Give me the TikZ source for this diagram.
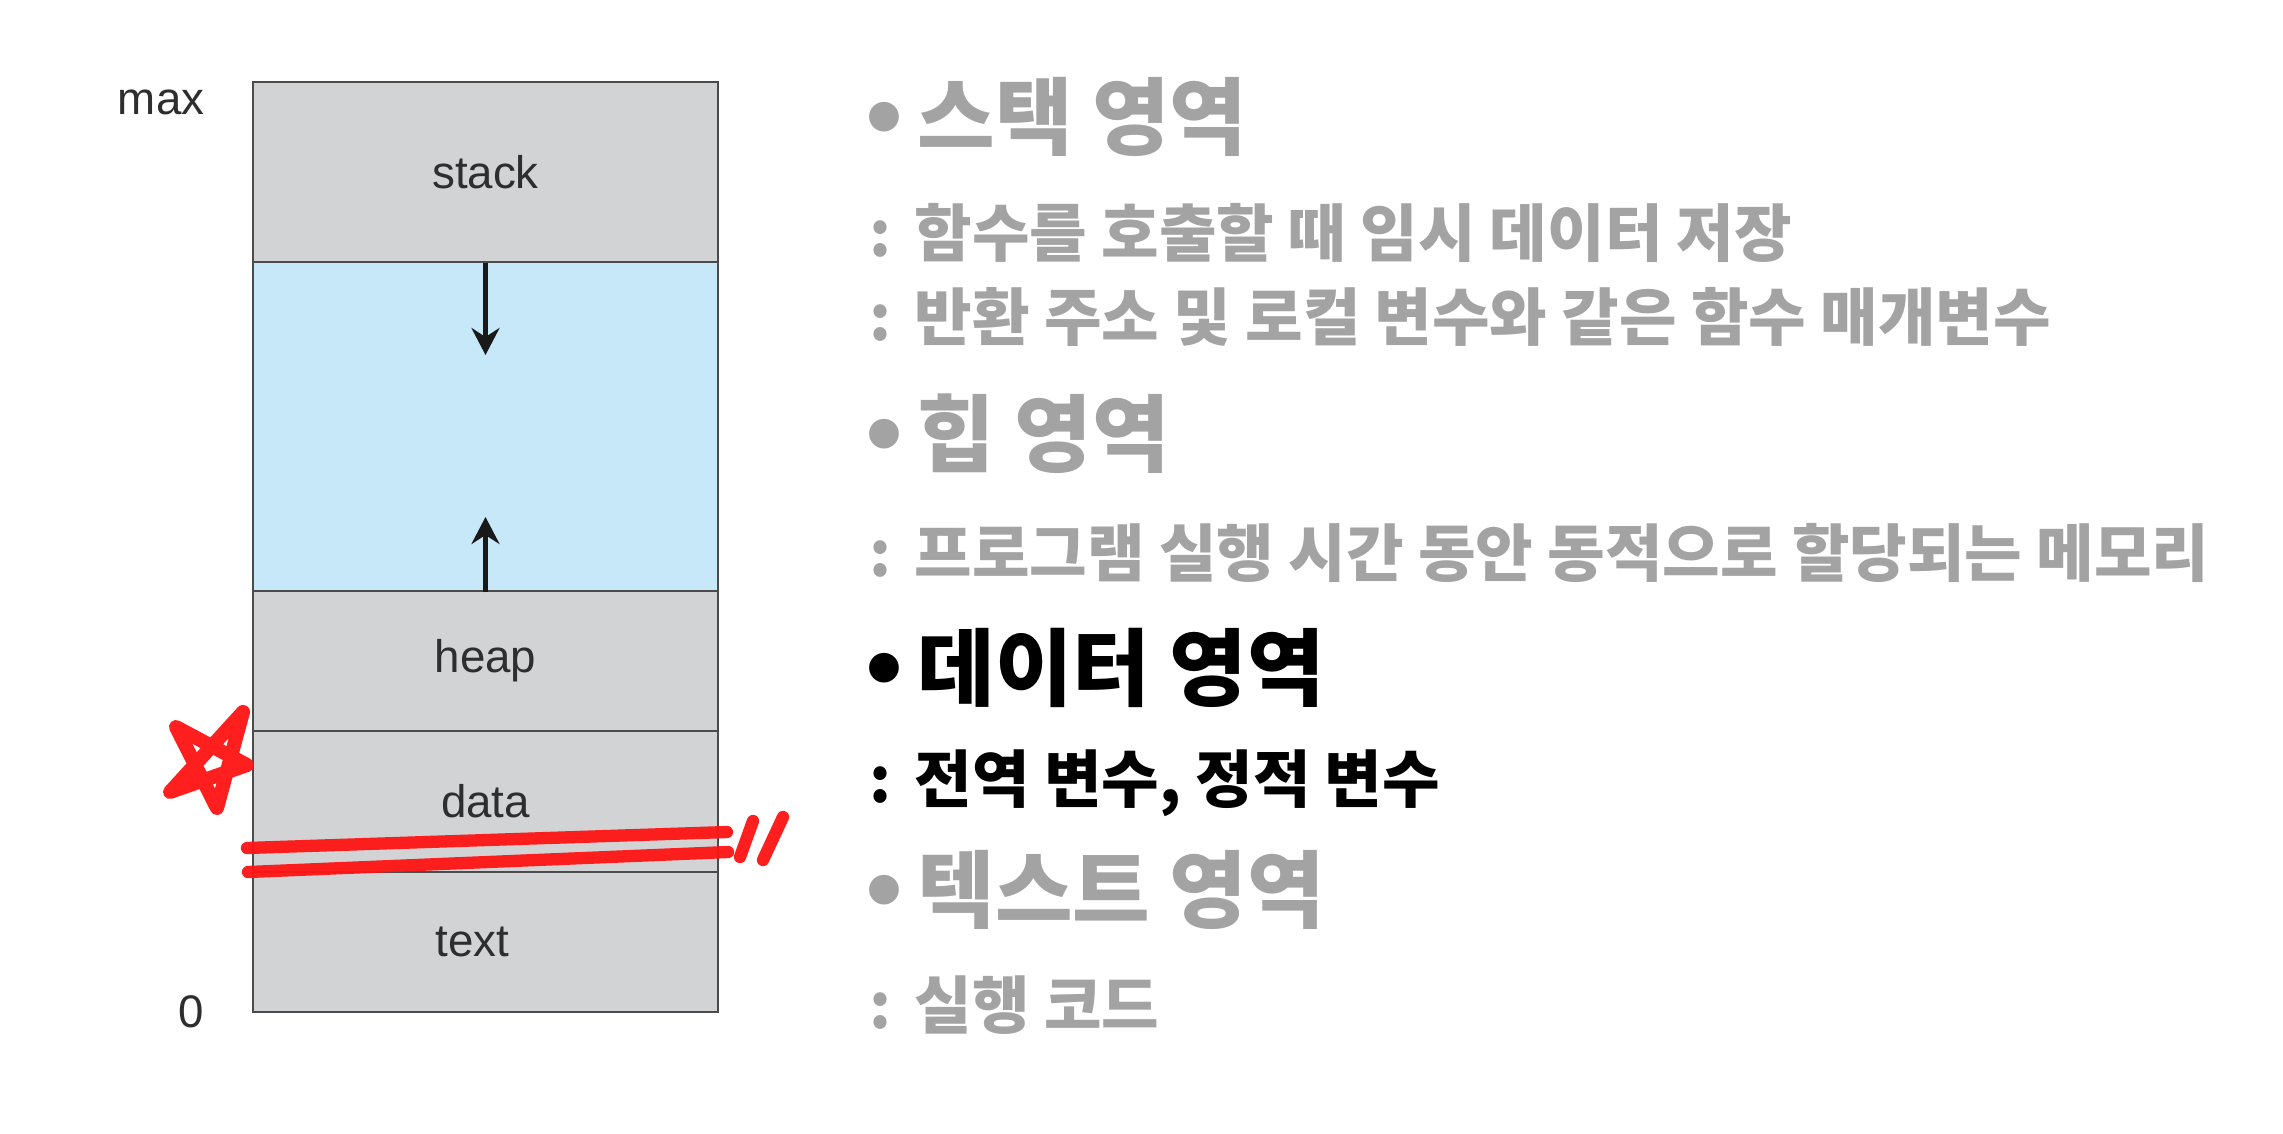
\documentclass[tikz,border=0pt]{standalone}
\usepackage{fontspec}
\setmainfont{Liberation Sans}
\newfontfamily\kofont{Noto Sans CJK KR}
\newfontfamily\dejavu{DejaVu Sans}
\usetikzlibrary{arrows.meta}
\definecolor{segrey}{RGB}{210,211,213}
\definecolor{segblue}{RGB}{198,232,249}
\definecolor{segline}{RGB}{75,75,75}
\definecolor{notegrey}{RGB}{163,163,163}
\definecolor{penred}{RGB}{255,20,20}
\newcommand{\bul}{\makebox[0.47cm][c]{\dejavu •}\hspace{0.10cm}}
\newcommand{\sep}{\makebox[0.40cm][l]{\hspace{-0.05cm}:}}

\begin{document}
\begin{tikzpicture}[
  >={Stealth[length=2.7mm, width=2.8mm, inset=0.9mm]},
  every node/.style={font=\fontsize{13}{15}\selectfont, text=black!82},
  seg/.style={rectangle, draw=segline, line width=0.8pt, fill=segrey, inner sep=0pt, minimum width=4.65cm},
  gapseg/.style={seg, fill=segblue},
  bound/.style={anchor=east, inner sep=0pt},
  heading/.style={anchor=west, inner sep=0pt, font=\kofont\bfseries\fontsize{24}{26}\selectfont, text=notegrey},
  detail/.style={anchor=west, inner sep=0pt, font=\kofont\bfseries\fontsize{17.8}{20}\selectfont, text=notegrey},
  edge/.style={->, line width=1.2pt, draw=black!90},
  pen/.style={draw=penred, line width=3.5pt, line cap=round, line join=round, opacity=0.95},
]
\useasboundingbox[fill=white] (0,0) rectangle (22.83,11.33);

% ---- memory layout segments ----
\node[seg, minimum height=1.80cm]    (stk) at (4.855, 9.61)  {stack};
\node[gapseg, minimum height=3.29cm] (gap) at (4.855, 7.065) {};
\node[seg, minimum height=1.40cm]    (hp)  at (4.855, 4.72)  {heap};
\node[seg, minimum height=1.41cm]    (dat) at (4.855, 3.315) {data};
\node[seg, minimum height=1.40cm]    (txt) at (4.855, 1.91)  {\hspace{-0.26cm}text};

% ---- address bounds ----
\node[bound] (amax)  at (2.05, 10.31) {max};
\node[bound] (azero) at (2.05, 1.21)  {0};

% ---- growth arrows ----
\coordinate (downtip) at (4.855, 7.78);
\coordinate (uptip)   at (4.855, 6.16);
\draw[edge] (stk.south) -- (downtip);
\draw[edge] (gap.south) -- (uptip);

% ---- red pen marks ----
\draw[pen, line width=4pt] (2.43, 4.21) -- (2.17, 3.25) -- (1.76, 4.06) -- (2.47, 3.68) -- (1.70, 3.41) -- cycle;
\draw[pen] (2.47, 2.85) -- (7.27, 3.01);
\draw[pen] (2.48, 2.61) -- (7.28, 2.81);
\draw[pen] (7.53, 3.12) -- (7.40, 2.76);
\draw[pen] (7.83, 3.16) -- (7.63, 2.73);

% ---- notes on each region ----
\node[heading] (hstack) at (8.60, 10.16) {\bul 스택 영역};
\node[detail]  (dstack1) at (8.74, 9.00) {\sep 함수를 호출할 때 임시 데이터 저장};
\node[detail]  (dstack2) at (8.74, 8.16) {\sep 반환 주소 및 로컬 변수와 같은 함수 매개변수};
\node[heading] (hheap) at (8.60, 6.99) {\bul 힙 영역};
\node[detail]  (dheap) at (8.74, 5.80) {\sep 프로그램 실행 시간 동안 동적으로 할당되는 메모리};
\node[heading, text=black] (hdata) at (8.60, 4.65) {\bul 데이터 영역};
\node[detail, text=black]  (ddata) at (8.74, 3.50) {\sep 전역 변수, 정적 변수};
\node[heading] (htext) at (8.60, 2.43) {\bul 텍스트 영역};
\node[detail]  (dtext) at (8.74, 1.28) {\sep 실행 코드};

\end{tikzpicture}
\end{document}
